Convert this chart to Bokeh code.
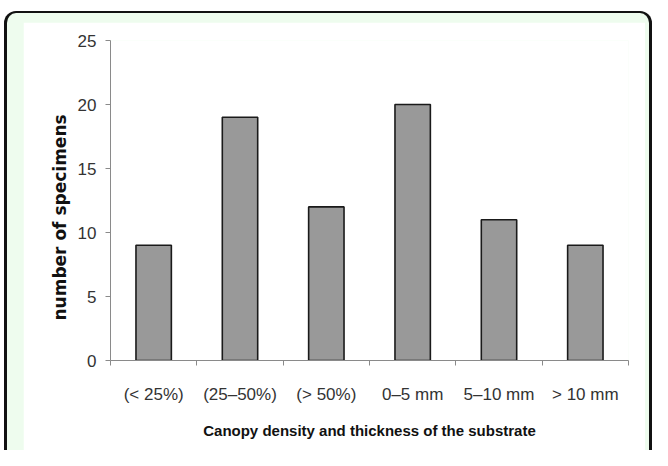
from bokeh.plotting import figure
from bokeh.models import FixedTicker, Range1d, ColumnDataSource, Title
from bokeh.layouts import column
from bokeh.embed import file_html
from bokeh.resources import INLINE

# ---- data ----
categories = ["(< 25%)", "(25–50%)", "(> 50%)", "0–5 mm", "5–10 mm", "> 10 mm"]
counts = [9, 19, 12, 20, 11, 9]
y_ticks = [0, 5, 10, 15, 20, 25]
y_title = "number of specimens"
x_title = "Canopy density and thickness of the substrate"

n = len(categories)
centers = [i + 0.5 for i in range(n)]
bounds = list(range(n + 1))

AXIS = "#8a8a8a"
TXT = "#333333"
FONT = "Liberation Sans"

p = figure(width=622, height=428, output_backend="svg", toolbar_location=None,
           x_range=Range1d(0, n), y_range=Range1d(0, max(y_ticks)),
           min_border_left=87, min_border_right=17, min_border_top=18,
           min_border_bottom=90)
p.outline_line_color = None
p.grid.visible = False
p.background_fill_color = "white"
p.border_fill_color = "white"

src = ColumnDataSource(dict(x=centers, top=counts))
p.vbar(x="x", top="top", bottom=0, width=0.41, source=src,
       fill_color="#999999", line_color="#1a1a1a", line_width=1.6)

xa = p.xaxis[0]
xa.ticker = FixedTicker(ticks=centers, minor_ticks=bounds)
xa.major_label_overrides = {c: lab for c, lab in zip(centers, categories)}
xa.major_tick_out = 0
xa.major_tick_in = 0
xa.minor_tick_out = 5
xa.minor_tick_in = 0
xa.minor_tick_line_color = AXIS
xa.axis_line_color = AXIS
xa.major_label_text_font = FONT
xa.major_label_text_font_size = "17px"
xa.major_label_text_color = TXT
xa.major_label_standoff = 19
xa.axis_label = x_title
xa.axis_label_text_font = FONT
xa.axis_label_text_font_style = "bold"
xa.axis_label_text_font_size = "15px"
xa.axis_label_text_color = "#111111"
xa.axis_label_standoff = 15

ya = p.yaxis[0]
ya.ticker = FixedTicker(ticks=y_ticks)
ya.major_tick_out = 5
ya.major_tick_in = 0
ya.minor_tick_line_color = None
ya.major_tick_line_color = AXIS
ya.axis_line_color = AXIS
ya.major_label_text_font = FONT
ya.major_label_text_font_size = "17px"
ya.major_label_text_color = TXT
ya.major_label_standoff = 9

p.add_layout(Title(text=y_title, align="left", offset=40,
                   text_font="DejaVu Sans", text_font_style="bold",
                   text_font_size="17px", text_color="#111111"), "left")

layout = column(p, margin=(11, 0, 0, 4), styles={
    "background-color": "#eefcee",
    "border-top": "2px solid #111",
    "border-left": "3px solid #111",
    "border-right": "3px solid #111",
    "border-radius": "12px 12px 0 0",
    "padding": "9px 4px 0px 16px",
})

open("out.html", "w").write(file_html(layout, INLINE))
